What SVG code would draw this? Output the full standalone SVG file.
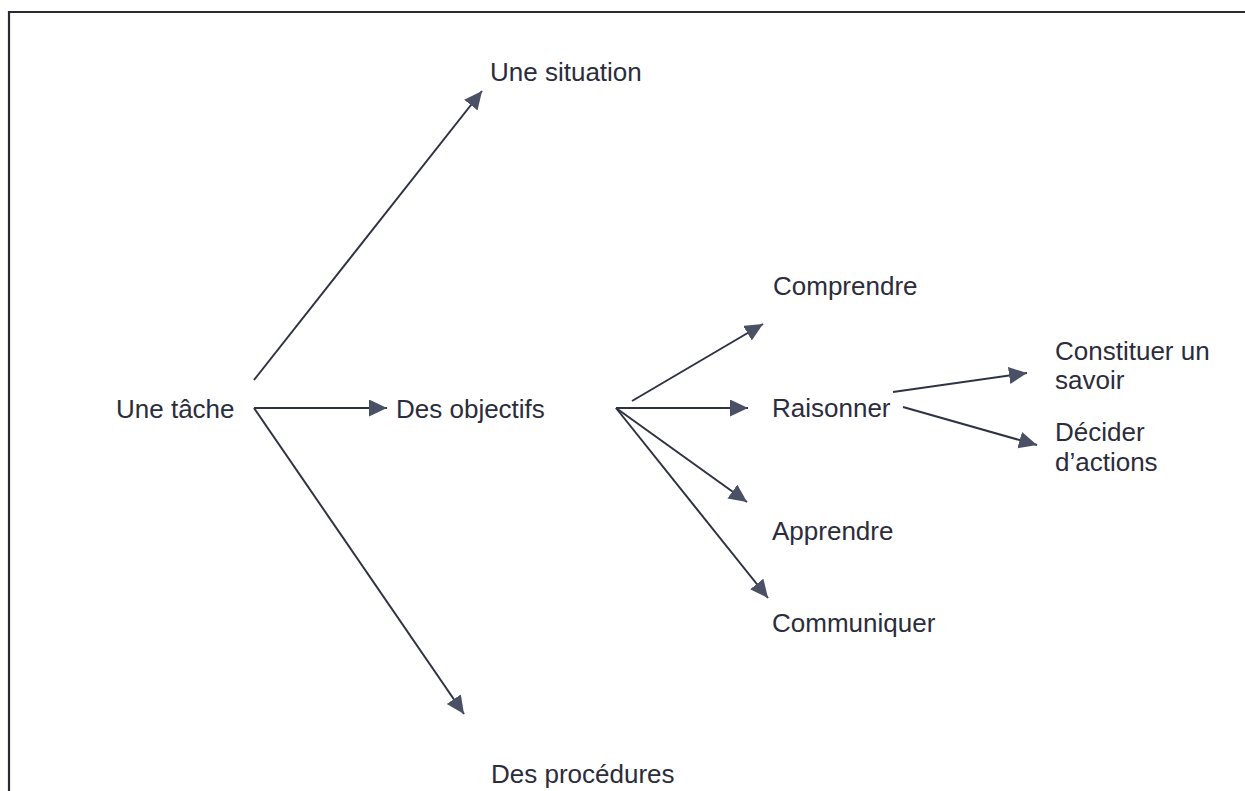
<svg xmlns="http://www.w3.org/2000/svg" width="1245" height="791" viewBox="0 0 1245 791">
<style>
.t{font-family:"Liberation Sans",Arial,sans-serif;font-size:26px;fill:#2b2c3c}
.c{stroke:#2f3244;stroke-width:2;fill:none;marker-end:url(#ah)}
</style>
<defs>
<marker id="ah" markerUnits="userSpaceOnUse" markerWidth="20" markerHeight="18" refX="18" refY="8.5" orient="auto">
<path d="M0,0 L18,8.5 L0,17 z" fill="#4a5066"/>
</marker>
</defs>
<rect width="1245" height="791" fill="#fff"/>
<g id="frame"><path d="M9,791 V12 H1245" fill="none" stroke="#2a2a35" stroke-width="2.2"/></g>
<g id="connectors">
<line class="c" x1="254" y1="380" x2="482" y2="91"/>
<line class="c" x1="254" y1="408" x2="387" y2="408"/>
<line class="c" x1="254" y1="408" x2="464" y2="714"/>
<line class="c" x1="632" y1="401" x2="763" y2="324"/>
<line class="c" x1="616" y1="408" x2="748" y2="408"/>
<line class="c" x1="616" y1="408" x2="747" y2="502"/>
<line class="c" x1="616" y1="408" x2="768" y2="598"/>
<line class="c" x1="893" y1="392" x2="1027" y2="373"/>
<line class="c" x1="903" y1="407" x2="1037" y2="445"/>
</g>
<g id="n-tache"><text class="t" x="116" y="418">Une tâche</text></g>
<g id="n-situation"><text class="t" x="490" y="81">Une situation</text></g>
<g id="n-objectifs"><text class="t" x="396" y="418">Des objectifs</text></g>
<g id="n-procedures"><text class="t" x="491" y="783">Des procédures</text></g>
<g id="n-comprendre"><text class="t" x="773" y="295">Comprendre</text></g>
<g id="n-raisonner"><text class="t" x="772" y="417">Raisonner</text></g>
<g id="n-apprendre"><text class="t" x="772" y="540">Apprendre</text></g>
<g id="n-communiquer"><text class="t" x="772" y="632">Communiquer</text></g>
<g id="n-constituer"><text class="t" x="1055" y="360">Constituer un</text><text class="t" x="1055" y="389">savoir</text></g>
<g id="n-decider"><text class="t" x="1055" y="441">Décider</text><text class="t" x="1055" y="471">d’actions</text></g>
</svg>
